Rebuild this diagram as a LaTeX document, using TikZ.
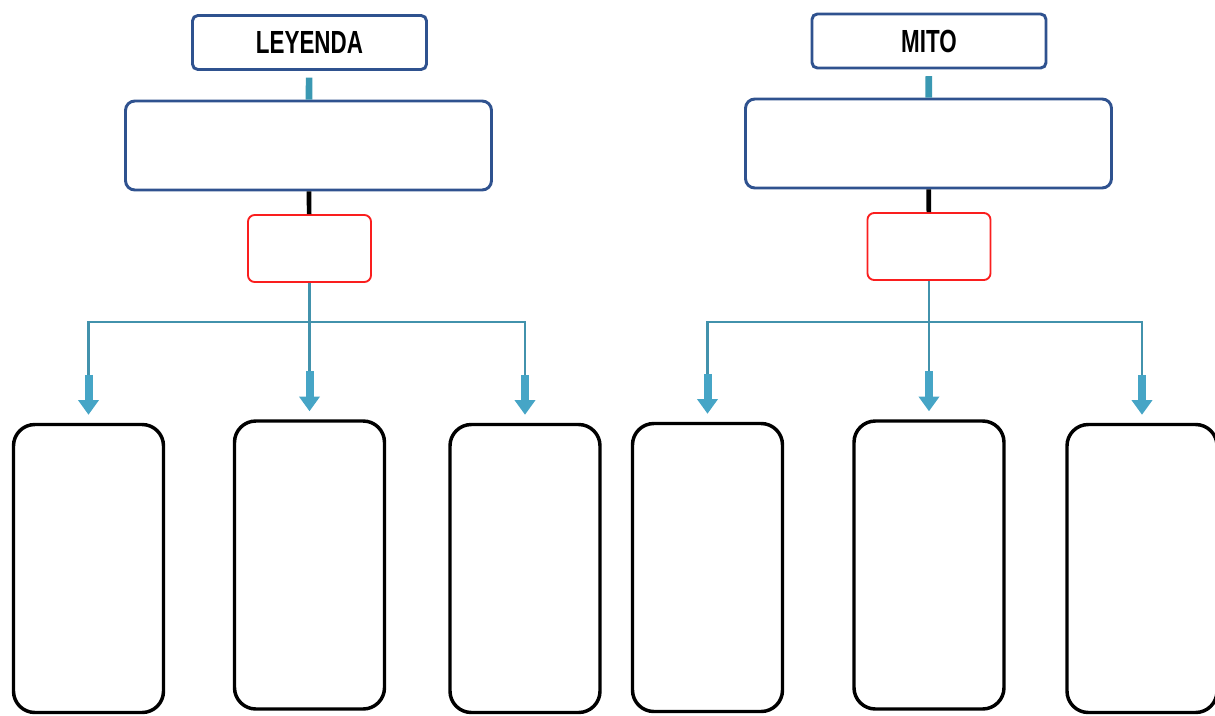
\documentclass[tikz,border=0pt]{standalone}
\usepackage{fontspec}
\newfontfamily\titlefont[FakeStretch=0.7]{Liberation Sans}
\usetikzlibrary{arrows.meta,positioning}

\definecolor{titleblue}{RGB}{47,82,143}
\definecolor{linkteal}{RGB}{66,146,172}
\definecolor{stubteal}{RGB}{58,152,178}
\definecolor{arrowteal}{RGB}{70,165,198}
\definecolor{defred}{RGB}{250,30,30}

\begin{document}
\begin{tikzpicture}[x=0.75pt, y=-0.75pt, >=Stealth]

        \def\px{0.75pt}            % one pixel of the reference
        \def\busy{322}             % height of the horizontal branch lines
        \tikzstyle{titlebox}=[draw=titleblue, line width=2.2pt, rounded corners=4pt,
            minimum width=234*\px, minimum height=54*\px, inner sep=0pt,
            font=\titlefont\bfseries\fontsize{24}{24}\selectfont]
        \tikzstyle{conceptbox}=[draw=titleblue, line width=2.2pt, rounded corners=7pt,
            minimum width=366*\px, minimum height=89*\px]
        \tikzstyle{defbox}=[draw=defred, line width=1.4pt, rounded corners=5pt,
            minimum width=123*\px, minimum height=67*\px]
        \tikzstyle{leafbox}=[draw=black, line width=2.6pt, rounded corners=16pt,
            minimum width=150*\px, minimum height=288*\px]
        \tikzset{
            stub/.style   ={draw=stubteal, line width=5pt, shorten <=5pt},
            joint/.style  ={draw=black, line width=3.5pt},
            link/.style   ={draw=linkteal, line width=1.6pt},
            bigarrow/.style={draw=arrowteal, line width=6pt, shorten >=6pt,
                -{Triangle[width=15pt,length=11pt]}}
        }

        \useasboundingbox (0,0) rectangle (1215,715);

        % Draw the two title columns
            \node[titlebox] (ley) at (309.5,42.5) {LEYENDA};
            \node[conceptbox] (conL) at (308.5,145.5) {};
            \node[defbox] (defL) at (309.5,248.5) {};

            \node[titlebox] (mito) at (929,41) {MITO};
            \node[conceptbox] (conR) at (928.5,143.5) {};
            \node[defbox] (defR) at (929,246.5) {};

        % Draw the bottom boxes
            \foreach \n/\xc/\yc in {1/88.5/568.5, 2/309.5/565, 3/525/568.5,
                                    4/707.5/567.5, 5/929/565, 6/1142/568.5}{
                \node[leafbox] (hoja-\n) at (\xc,\yc) {};
            }

        % Connect titles, concepts and red boxes
            \foreach \side/\tit in {L/ley, R/mito}{
                \draw[stub] (\tit) -- (con\side);
                \draw[joint] (con\side) -- (def\side);
            }

        % Branch every red box to its three bottom boxes
            \foreach \side/\a/\b/\c in {L/1/2/3, R/4/5/6}{
                \draw[link] ([yshift=36pt]hoja-\a.north) |- (hoja-\c.north |- 0,\busy)
                    -- ([yshift=36pt]hoja-\c.north);
                \draw[link] (def\side.south) -- ([yshift=36pt]hoja-\b.north);
                \foreach \n in {\a,\b,\c}{
                    \draw[bigarrow] ([yshift=36pt]hoja-\n.north) -- (hoja-\n.north);
                }
            }

\end{tikzpicture}
\end{document}
